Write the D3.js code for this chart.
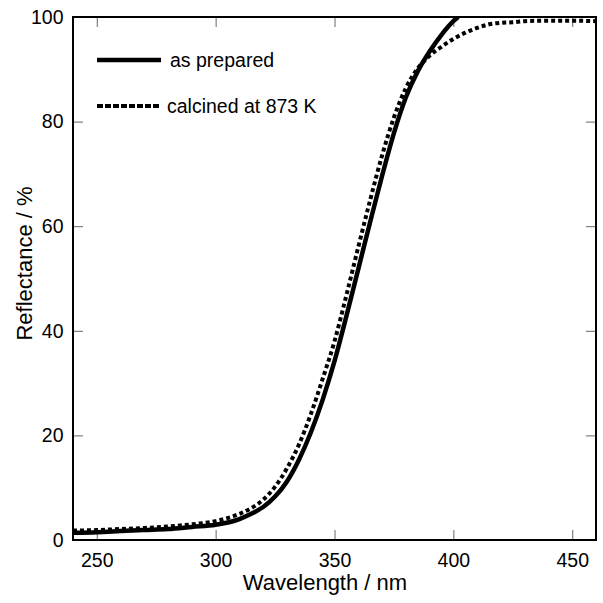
<!DOCTYPE html>
<html>
<head>
<meta charset="utf-8">
<script src="https://cdn.jsdelivr.net/npm/d3@7"></script>
<style>
  html, body { margin: 0; padding: 0; background: #fff; }
  svg { display: block; font-family: "Liberation Sans", Arial, Helvetica, sans-serif; }
</style>
</head>
<body>
<svg id="chart" width="603" height="603"></svg>
<script>
// Diffuse reflectance spectra (wavelength in nm, reflectance in %)
const wavelengthsPrepared = [240, 250, 260, 270, 280, 290, 300, 310, 315, 320, 325, 330, 335, 340, 345, 350, 355, 360, 365, 370, 375, 380, 385, 390, 395, 400, 402];
const reflectancePrepared = [1.4, 1.5, 1.7, 1.9, 2.1, 2.5, 2.9, 4.0, 5.0, 6.3, 8.3, 11.2, 15.3, 20.5, 26.8, 34.2, 42.8, 51.8, 60.8, 69.6, 77.8, 84.6, 89.6, 93.4, 96.6, 99.2, 100];

const wavelengthsCalcined = [240, 250, 260, 270, 280, 290, 300, 310, 315, 320, 325, 330, 335, 340, 345, 350, 355, 360, 365, 370, 375, 380, 385, 390, 395, 400, 405, 410, 415, 420, 425, 430, 440, 450, 460];
const reflectanceCalcined = [1.8, 1.9, 2.1, 2.3, 2.6, 3.0, 3.6, 5.0, 6.1, 7.7, 10.2, 13.7, 18.2, 24.0, 30.8, 38.0, 46.8, 56.0, 65.0, 73.5, 80.8, 86.4, 90.2, 92.6, 94.3, 95.8, 97.0, 97.9, 98.6, 98.9, 99.0, 99.2, 99.3, 99.3, 99.2];

const seriesNames = ["as prepared", "calcined at 873 K"];

const xTicks = [250, 300, 350, 400, 450];
const yTicks = [0, 20, 40, 60, 80, 100];
const xDomain = [240, 460];
const yDomain = [0, 100];

const svg = d3.select("#chart");
const plotLeft = 73, plotRight = 596, plotTop = 17, plotBottom = 540;

const x = d3.scaleLinear().domain(xDomain).range([plotLeft, plotRight]);
const y = d3.scaleLinear().domain(yDomain).range([plotBottom, plotTop]);

svg.append("defs").append("clipPath").attr("id", "plot-clip")
  .append("rect").attr("x", plotLeft).attr("y", plotTop - 1)
  .attr("width", plotRight - plotLeft).attr("height", plotBottom - plotTop + 1);

// Inward ticks on all four sides
const tickLen = 10;
const tickColor = "#666";
const labelSize = 19.5;
function tickAxis(axisGen, transform) {
  const g = svg.append("g").attr("transform", transform).call(axisGen);
  g.select(".domain").remove();
  g.selectAll(".tick line").attr("stroke", tickColor).attr("stroke-width", 1);
  g.selectAll("text").attr("font-size", labelSize).attr("fill", "#000")
    .attr("font-family", "Liberation Sans, Arial, sans-serif");
  return g;
}

tickAxis(d3.axisBottom(x).tickValues(xTicks).tickSizeInner(-tickLen).tickSizeOuter(0).tickPadding(13.5), `translate(0,${plotBottom})`);

tickAxis(d3.axisTop(x).tickValues(xTicks).tickSizeInner(-tickLen).tickSizeOuter(0).tickFormat(""), `translate(0,${plotTop})`);

const yl = tickAxis(d3.axisLeft(y).tickValues(yTicks).tickSizeInner(-tickLen).tickSizeOuter(0).tickPadding(9.5), `translate(${plotLeft},0)`);
yl.selectAll(".tick line").filter(d => d === 0 || d === 100).remove();

const yr = tickAxis(d3.axisRight(y).tickValues(yTicks).tickSizeInner(-tickLen).tickSizeOuter(0).tickFormat(""), `translate(${plotRight},0)`);
yr.selectAll(".tick line").filter(d => d === 0 || d === 100).remove();

// Frame
svg.append("rect")
  .attr("x", plotLeft).attr("y", plotTop)
  .attr("width", plotRight - plotLeft).attr("height", plotBottom - plotTop)
  .attr("fill", "none").attr("stroke", "#000").attr("stroke-width", 2);

// Curves
const line = d3.line().x(d => x(d[0])).y(d => y(d[1])).curve(d3.curveMonotoneX);
const plot = svg.append("g").attr("clip-path", "url(#plot-clip)");

plot.append("path")
  .datum(d3.zip(wavelengthsPrepared, reflectancePrepared))
  .attr("d", line)
  .attr("fill", "none").attr("stroke", "#000").attr("stroke-width", 4.5);

plot.append("path")
  .datum(d3.zip(wavelengthsCalcined, reflectanceCalcined))
  .attr("d", line)
  .attr("fill", "none").attr("stroke", "#000").attr("stroke-width", 4)
  .attr("stroke-dasharray", "4,3");

// Legend
const legend = svg.append("g");
const legendItems = [
  { name: seriesNames[0], dash: null, width: 4.5, y: 60 },
  { name: seriesNames[1], dash: "6,2", width: 4, y: 106 }
];
legendItems.forEach(item => {
  const ln = legend.append("line")
    .attr("x1", 97).attr("x2", 161)
    .attr("y1", item.y).attr("y2", item.y)
    .attr("stroke", "#000").attr("stroke-width", item.width);
  if (item.dash) ln.attr("stroke-dasharray", item.dash);
  legend.append("text")
    .attr("x", item.dash ? 167 : 170).attr("y", item.y)
    .attr("dy", "0.35em")
    .attr("font-size", labelSize)
    .text(item.name);
});

// Axis titles
svg.append("text")
  .attr("x", 325).attr("y", 590)
  .attr("text-anchor", "middle").attr("font-size", 22)
  .text("Wavelength / nm");

svg.append("text")
  .attr("transform", "translate(32,263.5) rotate(-90)")
  .attr("text-anchor", "middle").attr("font-size", 22)
  .text("Reflectance / %");
</script>
</body>
</html>
